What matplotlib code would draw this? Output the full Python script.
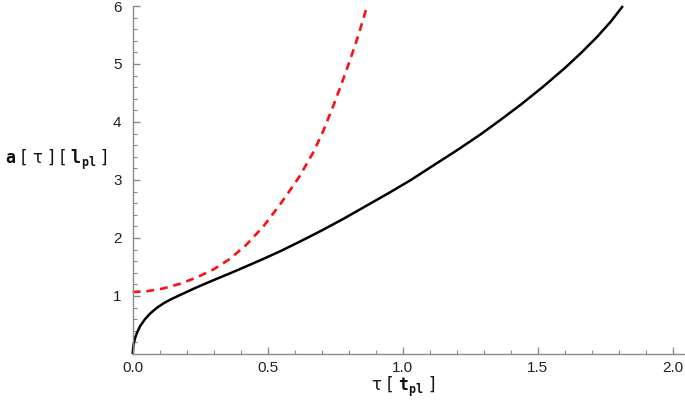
import numpy as np
import matplotlib
matplotlib.use("Agg")
import matplotlib.pyplot as plt

# values
tau_black = [0.0, 0.002, 0.005, 0.010, 0.016, 0.027, 0.045, 0.064, 0.09, 0.113,
             0.14, 0.175, 0.236, 0.30, 0.36, 0.42, 0.484, 0.55, 0.62, 0.70,
             0.78, 0.867, 0.95, 1.03, 1.113, 1.20, 1.286, 1.36, 1.44, 1.52,
             1.60, 1.66, 1.72, 1.77, 1.815]
a_black = [0.0, 0.13, 0.205, 0.29, 0.367, 0.476, 0.597, 0.695, 0.798, 0.870,
           0.939, 1.016, 1.147, 1.275, 1.39, 1.51, 1.64, 1.78, 1.94, 2.13,
           2.33, 2.56, 2.78, 3.00, 3.25, 3.51, 3.78, 4.03, 4.31, 4.61,
           4.93, 5.19, 5.47, 5.73, 6.0]

tau_red = [0.0, 0.05, 0.113, 0.175, 0.237, 0.30, 0.36, 0.42, 0.484, 0.546,
           0.60, 0.62, 0.669, 0.706, 0.743, 0.775, 0.805, 0.836, 0.868]
a_red = [1.07, 1.08, 1.13, 1.21, 1.32, 1.46, 1.64, 1.88, 2.20, 2.58,
         2.94, 3.08, 3.48, 3.85, 4.28, 4.68, 5.07, 5.50, 6.0]

x_ticks = [0.0, 0.5, 1.0, 1.5, 2.0]
x_tick_labels = ["0.0", "0.5", "1.0", "1.5", "2.0"]
y_ticks = [1, 2, 3, 4, 5, 6]
y_tick_labels = ["1", "2", "3", "4", "5", "6"]

plt.rcParams["mathtext.fontset"] = "custom"
plt.rcParams["mathtext.tt"] = "DejaVu Sans Mono:bold"
plt.rcParams["mathtext.rm"] = "DejaVu Sans Mono:bold"

fig = plt.figure(figsize=(6.85, 4.11), dpi=100)
ax = fig.add_axes([0.1937, 0.1387, 0.8063, 0.8467])

ax.plot(tau_black, a_black, color="black", lw=1.8, solid_capstyle="butt",
        solid_joinstyle="round", clip_on=False)
ax.plot(tau_red, a_red, color="#ff1010", lw=1.9, dashes=(3.0, 2.2), clip_on=False)

ax.set_xlim(0, 2.045)
ax.set_ylim(0, 6)

for s in ["top", "right"]:
    ax.spines[s].set_visible(False)
for s in ["left", "bottom"]:
    ax.spines[s].set_color("#8a8a8a")
    ax.spines[s].set_linewidth(1.0)

ax.set_xticks(x_ticks)
ax.set_xticklabels(x_tick_labels)
ax.set_yticks(y_ticks)
ax.set_yticklabels(y_tick_labels)
ax.set_xticks(np.arange(0.1, 2.05, 0.1), minor=True)
ax.set_yticks(np.arange(0.2, 6.0, 0.2), minor=True)

ax.tick_params(which="major", direction="in", length=5, width=1.0, color="#8a8a8a",
               labelsize=11, labelcolor="#222222")
ax.tick_params(which="minor", direction="in", length=3, width=0.8, color="#8a8a8a")
ax.tick_params(axis="x", which="major", pad=5)
ax.tick_params(axis="y", which="major", pad=8)
for lab in ax.get_xticklabels() + ax.get_yticklabels():
    lab.set_family("Liberation Sans")

fig.text(0.588, 0.058, r"τ [ $\mathtt{t}_{\mathtt{pl}}$ ]", fontsize=12,
         ha="center", va="center", color="#111111")
fig.text(0.007, 1 - 160 / 411, r"$\mathtt{a}$ [ τ ] [ $\mathtt{l}_{\mathtt{pl}}$ ]",
         fontsize=12, ha="left", va="center", color="#111111")

fig.savefig("out.png", dpi=100)
